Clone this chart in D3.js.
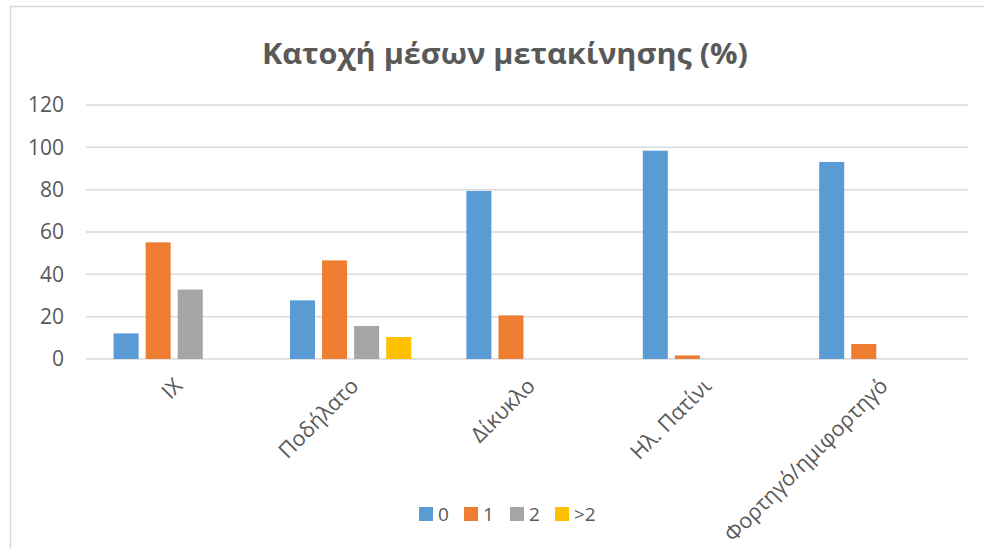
<!DOCTYPE html>
<html>
<head>
<meta charset="utf-8">
<script src="https://cdn.jsdelivr.net/npm/d3@7"></script>
<style>
  body { margin: 0; background: #fff; }
  text { font-family: "Open Sans", sans-serif; fill: #595959; }
</style>
</head>
<body>
<script>
// data
var categories = ["ΙΧ", "Ποδήλατο", "Δίκυκλο", "Ηλ. Πατίνι", "Φορτηγό/ημιφορτηγό"];
var seriesNames = ["0", "1", "2", ">2"];
var values0 = [12.1, 27.7, 79.4, 98.4, 93.1];
var values1 = [55.1, 46.6, 20.6, 1.7, 7.1];
var values2 = [32.8, 15.6, 0, 0, 0];
var values3 = [0, 10.4, 0, 0, 0];
var yTicks = [0, 20, 40, 60, 80, 100, 120];
var colors = ["#5B9BD5", "#ED7D31", "#A5A5A5", "#FFC000"];

var allValues = [values0, values1, values2, values3];
var data = categories.map(function(c, i) {
    return { cat: c, vals: seriesNames.map(function(s, j) { return { key: s, v: allValues[j][i] }; }) };
});

var W = 984, H = 548;
var margin = {top: 105, right: 16, bottom: 189, left: 86},
    width = W - margin.left - margin.right,
    height = H - margin.top - margin.bottom;

var svg = d3.select("body").append("svg")
    .attr("width", W)
    .attr("height", H);

// chart border
svg.append("rect")
    .attr("x", 10.5).attr("y", 6.5)
    .attr("width", 1000).attr("height", 600)
    .attr("fill", "none")
    .attr("stroke", "#D9D9D9")
    .attr("stroke-width", 1.5);

// title
svg.append("text")
    .attr("x", 505)
    .attr("y", 64)
    .attr("text-anchor", "middle")
    .attr("textLength", 486)
    .attr("lengthAdjust", "spacingAndGlyphs")
    .style("font-size", "28px")
    .style("font-weight", "bold")
    .text("Κατοχή μέσων μετακίνησης (%)");

var g = svg.append("g")
    .attr("transform", "translate(" + margin.left + "," + margin.top + ")");

var x0 = d3.scaleBand()
    .domain(categories)
    .range([0, width]);

var x1 = d3.scaleBand()
    .domain(seriesNames)
    .range([0, x0.bandwidth()])
    .paddingInner(0.22)
    .paddingOuter(0.86);

var y = d3.scaleLinear()
    .domain([0, 120])
    .range([height, 0]);

var color = d3.scaleOrdinal()
    .domain(seriesNames)
    .range(colors);

// gridlines
g.selectAll(".grid")
    .data(yTicks)
    .enter().append("line")
    .attr("class", "grid")
    .attr("x1", 0)
    .attr("x2", width)
    .attr("y1", function(d) { return y(d); })
    .attr("y2", function(d) { return y(d); })
    .attr("stroke", "#D9D9D9")
    .attr("stroke-width", 1.5);

// y axis labels
var yAxis = d3.axisLeft(y).tickValues(yTicks).tickSize(0).tickPadding(22);
g.append("g")
    .attr("class", "y axis")
    .call(yAxis)
    .call(function(s) { s.select(".domain").remove(); })
    .selectAll("text")
    .style("font-size", "21px")
    .style("font-family", "Open Sans")
    .attr("fill", "#595959");

// bars
var groups = g.selectAll(".cat")
    .data(data)
    .enter().append("g")
    .attr("class", "cat")
    .attr("transform", function(d) { return "translate(" + x0(d.cat) + ",0)"; });

groups.selectAll("rect")
    .data(function(d) { return d.vals; })
    .enter().append("rect")
    .attr("x", function(d) { return x1(d.key); })
    .attr("width", x1.bandwidth())
    .attr("y", function(d) { return y(d.v); })
    .attr("height", function(d) { return y(0) - y(d.v); })
    .attr("fill", function(d) { return color(d.key); });

// x axis labels, rotated
var xAxis = d3.axisBottom(x0).tickSize(0).tickPadding(0);
g.append("g")
    .attr("class", "x axis")
    .attr("transform", "translate(0," + height + ")")
    .call(xAxis)
    .call(function(s) { s.select(".domain").remove(); })
    .selectAll("text")
    .style("font-size", "21.5px")
    .style("font-family", "Open Sans")
    .attr("fill", "#595959")
    .attr("text-anchor", "end")
    .attr("dy", "0.35em")
    .attr("transform", "translate(4,23) rotate(-45)");

// legend
var legend = svg.append("g")
    .attr("transform", "translate(419,507)");
var legendX = d3.scaleOrdinal()
    .domain(seriesNames)
    .range([0, 45, 91, 136]);

var item = legend.selectAll(".item")
    .data(seriesNames)
    .enter().append("g")
    .attr("class", "item")
    .attr("transform", function(d) { return "translate(" + legendX(d) + ",0)"; });
item.append("rect")
    .attr("width", 14).attr("height", 14)
    .attr("fill", function(d) { return color(d); });
item.append("text")
    .attr("x", 19)
    .attr("y", 14)
    .style("font-size", "19px")
    .text(function(d) { return d; });
</script>
</body>
</html>
